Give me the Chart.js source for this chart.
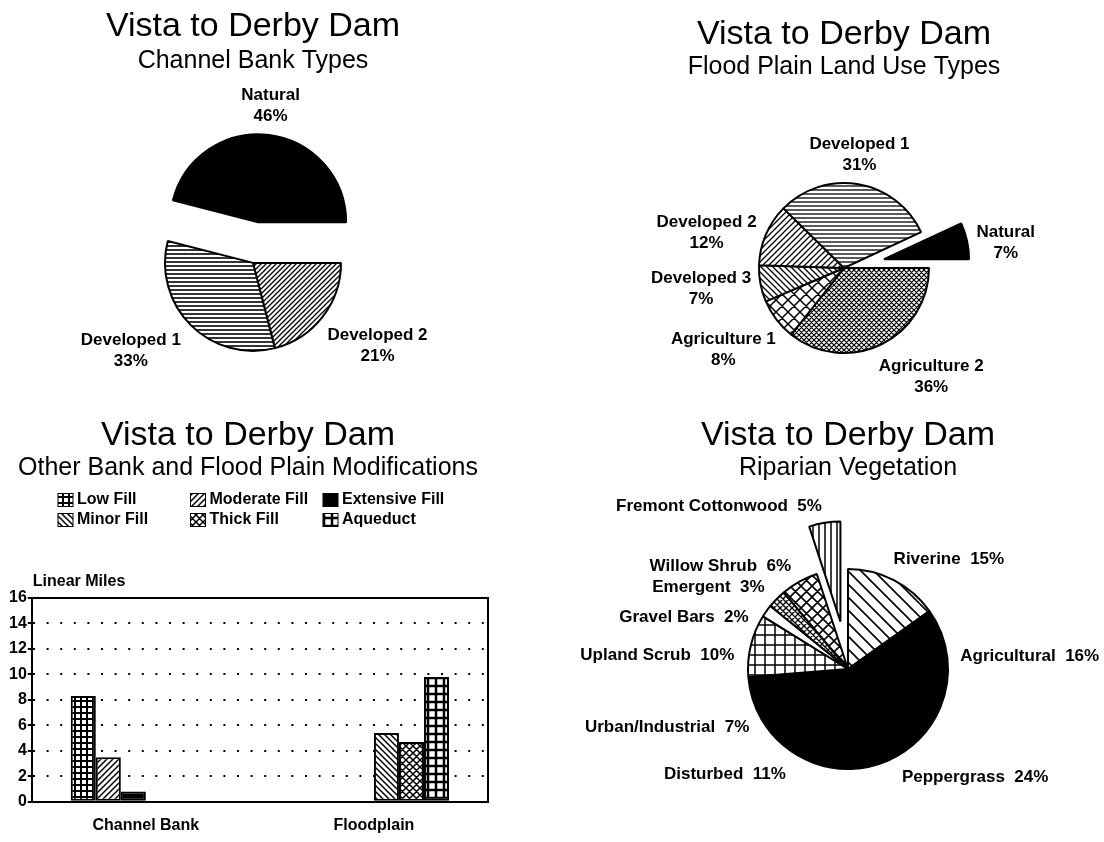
<!DOCTYPE html>
<html>
<head>
<meta charset="utf-8">
<script src="https://cdn.jsdelivr.net/npm/chart.js@4.4.1/dist/chart.umd.min.js"></script>
<style>
  html, body { margin: 0; padding: 0; background: #fff; overflow: hidden; }
  canvas { position: absolute; }
</style>
</head>
<body>
<canvas id="bankChart" width="506" height="410" style="left:0;top:0"></canvas>
<canvas id="landUseChart" width="520" height="410" style="left:584px;top:0"></canvas>
<canvas id="modChart" width="510" height="432" style="left:0;top:410px"></canvas>
<canvas id="vegChart" width="534" height="432" style="left:570px;top:410px"></canvas>
<script>
// values
const TITLE = 'Vista to Derby Dam';

const BANK_TYPES = ['Developed 2', 'Developed 1', 'Natural'];
const BANK_PCT = [21, 33, 46];

const LAND_USE_TYPES = ['Agriculture 2', 'Agriculture 1', 'Developed 3', 'Developed 2', 'Developed 1', 'Natural'];
const LAND_USE_PCT = [36, 8, 7, 12, 31, 7];

const MOD_CATEGORIES = ['Channel Bank', 'Floodplain'];
const MOD_TYPES = ['Low Fill', 'Moderate Fill', 'Extensive Fill', 'Minor Fill', 'Thick Fill', 'Aqueduct'];
const CHANNEL_BANK_MILES = [8.3, 3.5, 0.8, null, null, null];
const FLOODPLAIN_MILES = [null, null, null, 5.4, 4.7, 9.8];
const MILES_TICKS = [0, 2, 4, 6, 8, 10, 12, 14, 16];
const MILES_AXIS_TITLE = 'Linear Miles';

const VEG_TYPES = ['Riverine', 'Agricultural', 'Peppergrass', 'Disturbed', 'Urban/Industrial',
                   'Upland Scrub', 'Gravel Bars', 'Emergent', 'Willow Shrub', 'Fremont Cottonwood'];
const VEG_PCT = [15, 16, 24, 11, 7, 10, 2, 3, 6, 5];

const FAMILY = '"Liberation Sans", Arial, Helvetica, sans-serif';
const TITLE_FONT = { family: FAMILY, size: 34, weight: 'normal', lineHeight: 1.2 };
const SUB_FONT = { family: FAMILY, size: 25, weight: 'normal', lineHeight: 1.2 };
const AXIS_FONT = { family: FAMILY, size: 16, weight: 'bold', lineHeight: 1.2 };
const LABEL_FONT = 'bold 17px ' + FAMILY;

Chart.defaults.font.family = FAMILY;
Chart.defaults.color = '#000';

// black & white hatch fills like the old plotter output
function hatch(kind, size, width) {
  if (kind === 'solid') return '#000';
  if (kind === 'blank') return '#fff';
  const c = document.createElement('canvas');
  c.width = c.height = size;
  const g = c.getContext('2d');
  const s = size;
  g.fillStyle = '#fff';
  g.fillRect(0, 0, s, s);
  g.strokeStyle = '#000';
  g.lineWidth = width;
  g.beginPath();
  if (kind === 'h' || kind === 'grid') { g.moveTo(0, s / 2); g.lineTo(s, s / 2); }
  if (kind === 'v' || kind === 'grid') { g.moveTo(s / 2, 0); g.lineTo(s / 2, s); }
  if (kind === 'fd' || kind === 'x') {
    g.moveTo(-1, s + 1); g.lineTo(s + 1, -1);
    g.moveTo(-1, 1); g.lineTo(1, -1);
    g.moveTo(s - 1, s + 1); g.lineTo(s + 1, s - 1);
  }
  if (kind === 'bd' || kind === 'x') {
    g.moveTo(-1, -1); g.lineTo(s + 1, s + 1);
    g.moveTo(s - 1, -1); g.lineTo(s + 1, 1);
    g.moveTo(-1, s - 1); g.lineTo(1, s + 1);
  }
  g.stroke();
  return g.createPattern(c, 'repeat');
}

// pulls single slices away from the centre (Chart.js offset also grows the radius)
function explode(dist) {
  return {
    id: 'explode',
    afterDatasetsUpdate(chart) {
      chart.getDatasetMeta(0).data.forEach((arc, i) => {
        const d = dist[chart.data.labels[i]];
        if (!d) return;
        const a = (arc.startAngle + arc.endAngle) / 2;
        arc.x += Math.cos(a) * d;
        arc.y += Math.sin(a) * d;
      });
    }
  };
}

// "Name / NN%" text around the pie
function sliceLabels(cfg) {
  return {
    id: 'sliceLabels',
    afterDatasetsDraw(chart) {
      const ctx = chart.ctx;
      const names = chart.data.labels;
      const vals = chart.data.datasets[0].data;
      const lh = cfg.lineHeight;
      ctx.save();
      ctx.font = LABEL_FONT;
      ctx.fillStyle = '#000';
      ctx.textAlign = 'center';
      ctx.textBaseline = 'middle';
      chart.getDatasetMeta(0).data.forEach((arc, i) => {
        const a = (arc.startAngle + arc.endAngle) / 2;
        const cos = Math.cos(a), sin = Math.sin(a);
        const d = arc.outerRadius * cfg.dist;
        const lines = cfg.twoLine ? [names[i], vals[i] + '%'] : [names[i] + '  ' + vals[i] + '%'];
        const w = Math.max(...lines.map(t => ctx.measureText(t).width));
        const h = lines.length * lh;
        const n = cfg.nudge[names[i]] || [0, 0];
        let cx = arc.x + cos * d + n[0];
        let cy = arc.y + sin * d + n[1];
        if (cfg.sideAlign) {
          cx += Math.sign(cos) * w / 2;
        } else {
          cx += cos * w / 2;
          cy += sin * h / 2;
        }
        lines.forEach((t, j) => ctx.fillText(t, cx, cy - h / 2 + lh * (j + 0.5)));
      });
      ctx.restore();
    }
  };
}

function titles(subtitle, titleTop, subTop, subBottom) {
  return {
    title: { display: true, text: TITLE, color: '#000', font: TITLE_FONT, padding: { top: titleTop, bottom: 0 } },
    subtitle: { display: true, text: subtitle, color: '#000', font: SUB_FONT, padding: { top: subTop, bottom: subBottom } }
  };
}

function pieChart(id, names, values, cfg) {
  return new Chart(document.getElementById(id), {
    type: 'pie',
    data: {
      labels: names,
      datasets: [{
        data: values,
        backgroundColor: cfg.fills,
        borderColor: '#000',
        borderWidth: 2,
        rotation: cfg.rotation,
        radius: cfg.radius
      }]
    },
    options: {
      responsive: false,
      animation: false,
      events: [],
      layout: { padding: cfg.padding || 0 },
      plugins: Object.assign({
        legend: { display: false },
        tooltip: { enabled: false }
      }, titles(cfg.subtitle, cfg.titleTop, cfg.subTop, cfg.subBottom))
    },
    plugins: [explode(cfg.explode), sliceLabels(cfg.labels)]
  });
}

pieChart('bankChart', BANK_TYPES, BANK_PCT, {
  subtitle: 'Channel Bank Types', titleTop: 6, subTop: -1, subBottom: 40,
  rotation: 90, radius: 88,
  fills: [hatch('fd', 5, 1.3), hatch('h', 4, 1.6), '#000'],
  explode: { 'Natural': 41 },
  labels: { dist: 1.25, twoLine: true, lineHeight: 21,
            nudge: { 'Natural': [-5, 14], 'Developed 1': [-9, -5], 'Developed 2': [-2, 3] } }
});

pieChart('landUseChart', LAND_USE_TYPES, LAND_USE_PCT, {
  subtitle: 'Flood Plain Land Use Types', titleTop: 14.6, subTop: -3, subBottom: 43.6,
  rotation: 90, radius: 85,
  fills: [hatch('x', 5, 1.2), hatch('x', 12, 1.5), hatch('bd', 6, 1.3), hatch('fd', 6, 1.3), hatch('h', 4, 1.3), '#000'],
  explode: { 'Natural': 41 },
  labels: { dist: 1.17, twoLine: true, lineHeight: 21,
            nudge: { 'Developed 1': [-10, 6], 'Developed 2': [0, 12], 'Developed 3': [4, -2],
                     'Agriculture 1': [0, 9], 'Agriculture 2': [21, 0], 'Natural': [-4, 10] } }
});

pieChart('vegChart', VEG_TYPES, VEG_PCT, {
  subtitle: 'Riparian Vegetation', titleTop: 5, subTop: -3, subBottom: 13.2,
  rotation: 0, radius: 100,
  padding: { left: 22, right: 0, top: 0, bottom: 0 },
  fills: [hatch('bd', 13, 1.6), '#000', '#000', '#000', '#000',
          hatch('grid', 10, 1.5), '#fff', hatch('x', 6, 1.3), hatch('x', 11, 1.6), hatch('v', 6, 1.5)],
  explode: { 'Fremont Cottonwood': 48 },
  labels: { dist: 1.17, twoLine: false, lineHeight: 20, sideAlign: true,
            nudge: { 'Riverine': [-8, -6], 'Gravel Bars': [-4, 16], 'Upland Scrub': [0, 14],
                     'Urban/Industrial': [13, 24], 'Disturbed': [13, 16], 'Peppergrass': [7, 1],
                     'Agricultural': [-4, 0] } }
});

// bar chart: frame on top/right plus the horizontal axis caption
const framePlugin = {
  id: 'frame',
  afterDraw(chart) {
    const { ctx, chartArea: a } = chart;
    ctx.save();
    ctx.strokeStyle = '#000';
    ctx.lineWidth = 2;
    ctx.beginPath();
    ctx.moveTo(a.left, a.top);
    ctx.lineTo(a.right, a.top);
    ctx.lineTo(a.right, a.bottom);
    ctx.stroke();
    ctx.font = 'bold 16px ' + FAMILY;
    ctx.fillStyle = '#000';
    ctx.textAlign = 'left';
    ctx.textBaseline = 'middle';
    ctx.fillText(MILES_AXIS_TITLE, a.left + 1, a.top - 16);
    ctx.restore();
  }
};

// legend in three aligned columns
const gridLegend = {
  id: 'gridLegend',
  afterDraw(chart) {
    const ctx = chart.ctx;
    const top = chart.chartArea.top - 98;
    ctx.save();
    ctx.font = 'bold 16px ' + FAMILY;
    ctx.textAlign = 'left';
    ctx.textBaseline = 'middle';
    chart.data.datasets.forEach((ds, i) => {
      const x = 58 + (i % 3) * 132.5;
      const y = top + Math.floor(i / 3) * 20;
      ctx.fillStyle = ds.backgroundColor;
      ctx.fillRect(x, y - 6.5, 15, 13);
      ctx.strokeStyle = '#000';
      ctx.lineWidth = 1;
      ctx.strokeRect(x, y - 6.5, 15, 13);
      ctx.fillStyle = '#000';
      ctx.fillText(ds.label, x + 19, y);
    });
    ctx.restore();
  }
};

const modFills = [hatch('grid', 6, 2), hatch('fd', 6, 1.5), '#000', hatch('bd', 6, 1.5), hatch('x', 7, 1.5), hatch('grid', 8, 2.5)];

new Chart(document.getElementById('modChart'), {
  type: 'bar',
  data: {
    labels: MOD_CATEGORIES,
    datasets: MOD_TYPES.map((name, i) => ({
      label: name,
      data: [CHANNEL_BANK_MILES[i], FLOODPLAIN_MILES[i]],
      backgroundColor: modFills[i],
      borderColor: '#000',
      borderWidth: 2,
      borderSkipped: false,
      categoryPercentage: 0.658,
      barPercentage: 1
    }))
  },
  options: {
    responsive: false,
    animation: false,
    events: [],
    layout: { padding: { left: 8, right: 22, top: 0, bottom: 1 } },
    scales: {
      x: {
        grid: { display: false },
        border: { display: true, color: '#000', width: 2 },
        ticks: { color: '#000', font: AXIS_FONT, padding: 6 }
      },
      y: {
        min: MILES_TICKS[0],
        max: MILES_TICKS[MILES_TICKS.length - 1],
        ticks: { stepSize: MILES_TICKS[1] - MILES_TICKS[0], color: '#000', font: AXIS_FONT, padding: 1 },
        grid: { color: '#000', lineWidth: 2, tickLength: 4, tickWidth: 2, tickColor: '#000' },
        border: { display: true, color: '#000', width: 2, dash: [2, 11.6] }
      }
    },
    plugins: Object.assign({
      legend: { display: false },
      tooltip: { enabled: false }
    }, titles('Other Bank and Flood Plain Modifications', 5, -3, 115.2))
  },
  plugins: [framePlugin, gridLegend]
});
</script>
</body>
</html>
